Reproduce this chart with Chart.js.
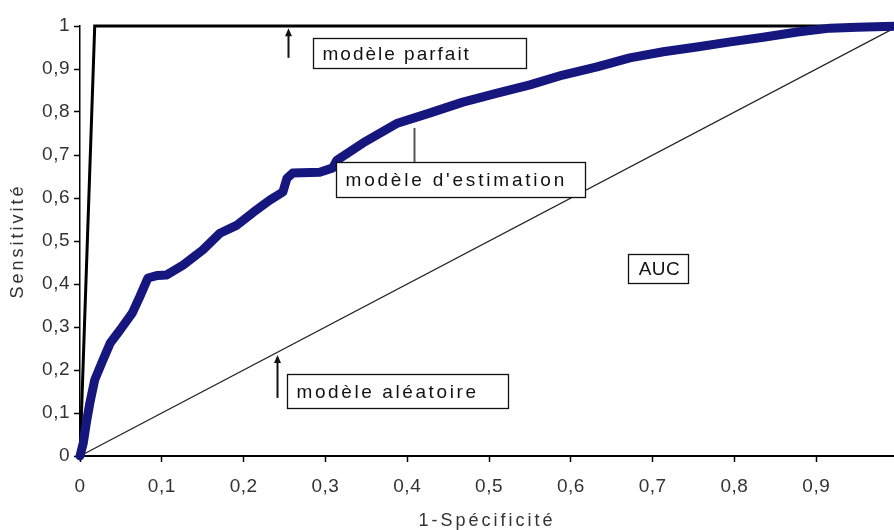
<!DOCTYPE html>
<html><head><meta charset="utf-8">
<script src="https://cdn.jsdelivr.net/npm/chart.js@4"></script>
<style>html,body{margin:0;padding:0;background:#fff}</style>
</head><body>
<canvas id="c" width="894" height="530" style="display:block;width:894px;height:530px"></canvas>
<script>
const xTicks = [0, 0.1, 0.2, 0.3, 0.4, 0.5, 0.6, 0.7, 0.8, 0.9];
const yTicks = [0, 0.1, 0.2, 0.3, 0.4, 0.5, 0.6, 0.7, 0.8, 0.9, 1];
const rocX = [0, 0.004, 0.008, 0.012, 0.018, 0.028, 0.037, 0.049, 0.064, 0.073, 0.083, 0.095, 0.106, 0.126, 0.15, 0.171, 0.192, 0.212, 0.232, 0.248, 0.253, 0.26, 0.293, 0.309, 0.314, 0.346, 0.388, 0.428, 0.468, 0.51, 0.55, 0.59, 0.632, 0.672, 0.713, 0.754, 0.795, 0.835, 0.877, 0.917, 0.95, 1];
const rocY = [0, 0.03, 0.08, 0.123, 0.177, 0.223, 0.263, 0.293, 0.333, 0.37, 0.414, 0.42, 0.421, 0.444, 0.479, 0.518, 0.537, 0.567, 0.595, 0.614, 0.646, 0.658, 0.66, 0.67, 0.688, 0.728, 0.774, 0.798, 0.823, 0.844, 0.863, 0.886, 0.905, 0.926, 0.94, 0.951, 0.963, 0.974, 0.986, 0.995, 0.997, 1];
const perfectX = [0, 0.018, 1];
const perfectY = [0, 1, 1];
const randomX = [0, 1];
const randomY = [0, 1];
const xTitle = '1-Spécificité';
const yTitle = 'Sensitivité';

const pts = (xs, ys) => xs.map((x, i) => ({x, y: ys[i]}));
const fmt = v => (v === 0 ? '0' : v === 1 ? '1' : v.toFixed(1).replace('.', ','));
const FONT = "'Liberation Sans', Arial, sans-serif";

const spacing = {
  id: 'spacing',
  afterUpdate(chart) {
    Object.values(chart.scales).forEach(s => {
      if (s._wrappedTitle) return;
      const orig = s.drawTitle;
      s.drawTitle = function () {
        const c = this.ctx; const prev = c.letterSpacing;
        c.letterSpacing = '3px'; orig.call(this); c.letterSpacing = prev;
      };
      s._wrappedTitle = true;
    });
  },
  beforeDraw(chart) { chart.ctx.letterSpacing = '0.5px'; }
};

const notes = {
  id: 'notes',
  afterDatasetsDraw(chart) {
    const {ctx, scales: {x, y}} = chart;
    const X = v => x.getPixelForValue(v), Y = v => y.getPixelForValue(v);
    ctx.save();
    ctx.font = '19px ' + FONT;
    ctx.textBaseline = 'middle';
    function box(x0, y0, x1, y1, text, center, ls) {
      const l = Math.round(X(x0)) + 0.5, t = Math.round(Y(y0)) + 0.5;
      const r = Math.round(X(x1)) + 0.5, b = Math.round(Y(y1)) + 0.5;
      ctx.fillStyle = '#fff';
      ctx.fillRect(l, t, r - l, b - t);
      ctx.strokeStyle = '#111';
      ctx.lineWidth = 1.3;
      ctx.strokeRect(l, t, r - l, b - t);
      ctx.fillStyle = '#111';
      ctx.letterSpacing = ls;
      if (center) { ctx.textAlign = 'center'; ctx.fillText(text, (l + r) / 2 + 1, (t + b) / 2 + 1); }
      else { ctx.textAlign = 'left'; ctx.fillText(text, l + 9, (t + b) / 2 + 1); }
    }
    function arrow(xv, yFrom, yTo, head) {
      const px = Math.round(X(xv)) + 0.5, p0 = Y(yFrom), p1 = Y(yTo);
      ctx.strokeStyle = head ? '#111' : '#555';
      ctx.lineWidth = 2;
      ctx.beginPath(); ctx.moveTo(px, p0); ctx.lineTo(px, p1 + (head ? 5 : 0)); ctx.stroke();
      if (head) {
        ctx.fillStyle = '#111';
        ctx.beginPath(); ctx.moveTo(px, p1); ctx.lineTo(px - 3.5, p1 + 8); ctx.lineTo(px + 3.5, p1 + 8); ctx.closePath(); ctx.fill();
      }
    }
    box(0.285, 0.972, 0.545, 0.902, 'modèle parfait', false, '2px');
    arrow(0.254, 0.926, 0.995, true);
    arrow(0.408, 0.684, 0.763, false);
    box(0.313, 0.684, 0.617, 0.602, "modèle d'estimation", false, '2.8px');
    box(0.670, 0.470, 0.743, 0.402, 'AUC', true, '0.5px');
    box(0.253, 0.191, 0.523, 0.112, 'modèle aléatoire', false, '2.6px');
    arrow(0.241, 0.135, 0.235, true);
    ctx.restore();
  }
};

new Chart(document.getElementById('c'), {
  type: 'scatter',
  data: {
    datasets: [
      { label: "modèle d'estimation", data: pts(rocX, rocY), showLine: true, borderColor: '#16167f', backgroundColor: '#16167f', borderWidth: 9, pointRadius: 0, borderJoinStyle: 'round', borderCapStyle: 'round', clip: 8 },
      { label: 'modèle parfait', data: pts(perfectX, perfectY), showLine: true, borderColor: '#000', borderWidth: 3, pointRadius: 0, clip: 8 },
      { label: 'modèle aléatoire', data: pts(randomX, randomY), showLine: true, borderColor: '#222', borderWidth: 1.3, pointRadius: 0, clip: 8 }
    ]
  },
  options: {
    responsive: false,
    animation: false,
    devicePixelRatio: 1,
    layout: { padding: { top: 26, right: 0, left: 0, bottom: 0 } },
    plugins: { legend: { display: false }, tooltip: { enabled: false } },
    scales: {
      x: {
        type: 'linear', min: 0, max: 0.995,
        afterBuildTicks: s => { s.ticks = xTicks.map(v => ({value: v})); },
        afterFit: s => { s.height = 74; s.paddingRight = 0; s.paddingLeft = 0; },
        ticks: { callback: fmt, font: { family: FONT, size: 19 }, color: '#333', padding: 13, maxRotation: 0, autoSkip: false, includeBounds: false },
        grid: { drawOnChartArea: false, drawTicks: true, tickLength: 6, tickColor: '#000', tickWidth: 1.5 },
        border: { display: true, color: '#000', width: 2 },
        title: { display: true, text: xTitle, font: { family: FONT, size: 18, lineHeight: 1 }, color: '#333', padding: { top: 0, bottom: 0 } }
      },
      y: {
        type: 'linear', min: 0, max: 1,
        afterBuildTicks: s => { s.ticks = yTicks.map(v => ({value: v})); },
        afterFit: s => { s.width = 80; s.paddingTop = 0; s.paddingBottom = 0; },
        ticks: { callback: fmt, font: { family: FONT, size: 19 }, color: '#333', padding: 4, autoSkip: false, includeBounds: false },
        grid: { drawOnChartArea: false, drawTicks: true, tickLength: 6, tickColor: '#000', tickWidth: 1.5 },
        border: { display: true, color: '#000', width: 1.5 },
        title: { display: true, text: yTitle, font: { family: FONT, size: 18, lineHeight: 1 }, color: '#333', padding: { top: 9, bottom: 0 } }
      }
    }
  },
  plugins: [spacing, notes]
});
</script>
</body></html>
